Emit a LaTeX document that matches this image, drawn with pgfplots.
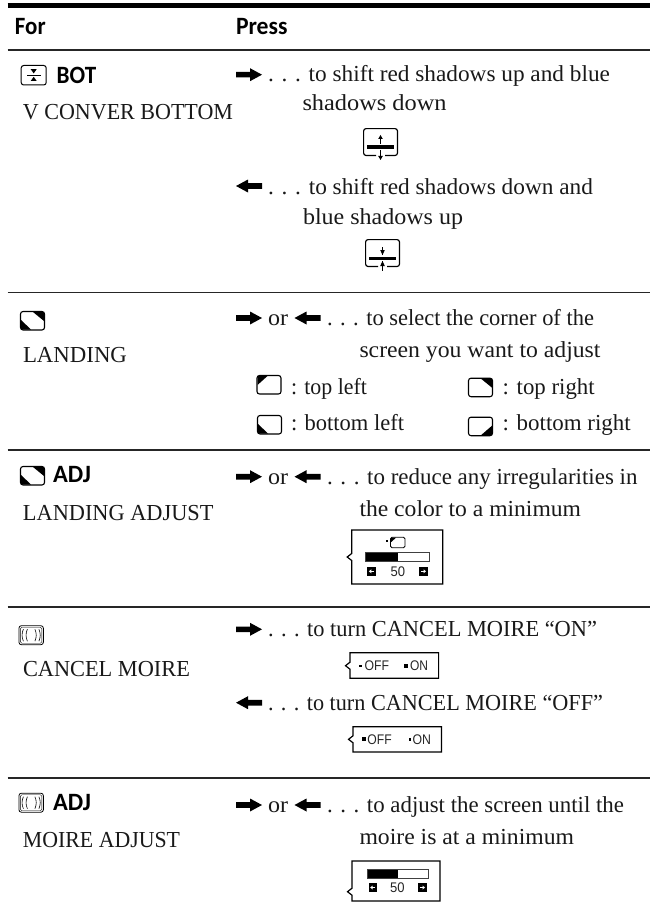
\documentclass[border=0pt]{standalone}
\usepackage{fontspec}
\usepackage{graphicx}
\usepackage{pgfplots}
\pgfplotsset{compat=1.18}
\setmainfont{Liberation Serif}
\newfontfamily\hd{Carlito}
\newfontfamily\ar{Liberation Sans}
% text: x, baseline, width, text
\newcommand\T[4]{\node[anchor=base west,inner sep=0pt,outer sep=0pt,text=black!90] at (axis cs:#1,#2) {\resizebox{#3bp}{\height}{\fontsize{23}{26}\selectfont #4}};}
\newcommand\Hd[4]{\node[anchor=base west,inner sep=0pt,outer sep=0pt] at (axis cs:#1,#2) {\resizebox{#3bp}{\height}{\fontsize{25}{26}\selectfont\hd\bfseries #4}};}
\newcommand\A[4]{\node[anchor=base west,inner sep=0pt,outer sep=0pt,text=black!85] at (axis cs:#1,#2) {\resizebox{#3bp}{\height}{\fontsize{#4}{14}\selectfont\ar 50}};}
\newcommand\AT[4]{\node[anchor=base west,inner sep=0pt,outer sep=0pt,text=black!85] at (axis cs:#1,#2) {\resizebox{#3bp}{\height}{\fontsize{14}{14}\selectfont\ar #4}};}
\newenvironment{px}[2]{\begin{scope}[shift={(axis cs:#1,#2)},x=1bp,y=-1bp]}{\end{scope}}
\newcommand\Rarrow[2]{\begin{px}{#1}{#2}\fill (0,-2.8)--(14,-2.8)--(14,-6.5)--(26,0)--(14,6.5)--(14,2.8)--(0,2.8)--cycle;\end{px}}
\newcommand\Larrow[2]{\begin{px}{#1}{#2}\fill (26,-2.8)--(12,-2.8)--(12,-6.5)--(0,0)--(12,6.5)--(12,2.8)--(26,2.8)--cycle;\end{px}}
\newcommand\Cbox[3]{\begin{px}{#1}{#2}\draw[line width=1.1pt,rounded corners=2.5pt] (0.5,0.5) rectangle (24.5,19);#3\end{px}}
\newcommand\cTL{\fill (1,1)--(11,1)--(1,10)--cycle;}
\newcommand\cTR{\fill (24,1)--(13,1)--(24,10)--cycle;}
\newcommand\cBL{\fill (1,18.5)--(11,18.5)--(1,9)--cycle;}
\newcommand\cBR{\fill (24,18.5)--(13,18.5)--(24,9)--cycle;}
\newcommand\Moire[2]{\begin{px}{#1}{#2}
\draw[line width=.8pt,rounded corners=2.5pt] (0.5,0.5) rectangle (25,19.5);
\draw[line width=.4pt,rounded corners=1.5pt] (2,2) rectangle (23.5,18);
\draw[line width=.6pt] (5,4) .. controls (3.2,8) and (3.2,12) .. (5,16);
\draw[line width=.6pt] (9,4) .. controls (7.2,8) and (7.2,12) .. (9,16);
\draw[line width=.6pt] (16.5,4) .. controls (18.3,8) and (18.3,12) .. (16.5,16);
\draw[line width=.6pt] (20.5,4) .. controls (22.3,8) and (22.3,12) .. (20.5,16);
\end{px}}
\newcommand\Bot[2]{\begin{px}{#1}{#2}
\draw[line width=1pt,rounded corners=2.5pt] (0.5,0.5) rectangle (25.5,20);
\fill (6,9.6) rectangle (20,10.6);
\fill (10,4.2)--(16,4.2)--(13,8.4)--cycle;
\fill (10,16)--(16,16)--(13,11.8)--cycle;
\end{px}}
% shift icon; #3: arrow code
\newcommand\Shift[3]{\begin{px}{#1}{#2}
\draw[line width=1.2pt,rounded corners=2.5pt] (13,27.5)--(0.6,27.5)--(0.6,0.6)--(34.5,0.6)--(34.5,27.5)--(22,27.5);
\fill (4,17.5) rectangle (31,21);
#3\end{px}}
\newcommand\Outward{\draw[line width=.7pt] (17.5,9)--(17.5,16);\fill (15.2,11)--(19.8,11)--(17.5,7)--cycle;
\draw[line width=.7pt] (17.5,22)--(17.5,31);\fill (15.2,28)--(19.8,28)--(17.5,32)--cycle;}
\newcommand\Inward{\draw[line width=.7pt] (17.5,8)--(17.5,16);\fill (15.2,11)--(19.8,11)--(17.5,16)--cycle;
\draw[line width=.7pt] (17.5,22)--(17.5,32);\fill (15.2,27)--(19.8,27)--(17.5,22)--cycle;}
% OSD box: x y w h pointerY
\newcommand\Osd[5]{\begin{px}{#1}{#2}
\draw[line width=1.2pt] (0,#5-3.5)--(0,0)--(#3,0)--(#3,#4)--(0,#4)--(0,#5+3.5)--(-4.5,#5)--cycle;
\end{px}}
\newcommand\Slider[4]{\begin{px}{#1}{#2}
\draw[line width=.8pt,draw=black!75] (0,0) rectangle (#3,#4);
\fill (0.5,0.5) rectangle (#3*0.5,#4-0.5);
\end{px}}
\newcommand\Btn[3]{\begin{px}{#1}{#2}
\fill (0,0) rectangle (8.5,9.5);
\ifnum#3=0
\fill[white] (6.5,4.2) rectangle (3.5,5.4);\fill[white] (4,2.8)--(4,6.8)--(1.5,4.8)--cycle;
\else
\fill[white] (2,4.2) rectangle (5,5.4);\fill[white] (4.5,2.8)--(4.5,6.8)--(7,4.8)--cycle;
\fi
\end{px}}
\begin{document}
\begin{tikzpicture}
\begin{axis}[width=657bp,height=912bp,scale only axis,xmin=0,xmax=657,ymin=0,ymax=912,y dir=reverse,hide axis,clip=false]
\path (axis cs:0,0) rectangle (axis cs:657,912);
\addplot[black,line width=5bp,forget plot] coordinates {(7.5,5.7) (650,5.7)};
\addplot[black!85,line width=1.3bp,forget plot] coordinates {(7.5,50) (650,50)};
\addplot[black!85,line width=1.3bp,forget plot] coordinates {(7.5,292.5) (650,292.5)};
\addplot[black!85,line width=1.3bp,forget plot] coordinates {(7.5,450) (650,450)};
\addplot[black!85,line width=1.3bp,forget plot] coordinates {(7.5,607) (650,607)};
\addplot[black!85,line width=1.3bp,forget plot] coordinates {(7.5,778) (650,778)};
\Hd{15}{35}{30.7}{For}
\Hd{236}{35}{51.5}{Press}
% row 1
\Bot{20.7}{65}
\Hd{56.7}{84}{39.5}{BOT}
\T{23}{120}{210}{V CONVER BOTTOM}
\Rarrow{236}{74.7}
\T{268}{82}{342}{. . . to shift red shadows up and blue}
\T{302.5}{111}{144}{shadows down}
\Shift{363}{128}{\Outward}
\Larrow{236}{186}
\T{268}{194.5}{325}{. . . to shift red shadows down and}
\T{303}{224}{160}{blue shadows up}
\Shift{365}{239}{\Inward}
% row 2
\Cbox{20}{311}{\cTR\cBL}
\T{23}{362}{104}{LANDING}
\Rarrow{236}{318}
\T{268}{325}{20}{or}
\Larrow{294.5}{318}
\T{327}{325}{267}{. . . to select the corner of the}
\T{359.5}{357.3}{241}{screen you want to adjust}
\Cbox{256.5}{375}{\cTL}
\T{291}{394.3}{76}{: top left}
\Cbox{468}{377.7}{\cTR}
\T{502.7}{394.3}{92}{: top right}
\Cbox{257}{415}{\cBL}
\T{291}{430}{113}{: bottom left}
\Cbox{468}{416.7}{\cBR}
\T{502.7}{430}{128}{: bottom right}
% row 3
\Cbox{20}{466}{\cTR\cBL}
\Hd{53}{482.7}{38}{ADJ}
\T{23}{520}{190.5}{LANDING ADJUST}
\Rarrow{236}{476.7}
\T{268}{484}{20}{or}
\Larrow{294.5}{476.7}
\T{327}{484}{310.5}{. . . to reduce any irregularities in}
\T{359.5}{516.7}{221.5}{the color to a minimum}
\Osd{351.7}{530}{91}{54}{27}
\begin{px}{390}{536.7}
\draw[line width=.8pt,rounded corners=1.5pt] (0.5,0.5) rectangle (15,11);
\fill (1,1)--(6,1)--(1,5.5)--cycle;
\fill (-4.3,3.5) rectangle (-2,5);
\end{px}
\Slider{365.7}{552.7}{63.6}{9}
\Btn{367.3}{566.5}{0}
\Btn{419}{566.5}{1}
\A{390.7}{576}{14.5}{14}
% row 4
\Moire{18.4}{625.2}
\T{23}{676.7}{167}{CANCEL MOIRE}
\Rarrow{236}{629.3}
\T{268}{636.7}{329}{. . . to turn CANCEL MOIRE “ON”}
\Osd{350}{652.7}{88.6}{25.6}{13}
\fill (axis cs:359,664.5) rectangle (axis cs:361.5,667);
\AT{364.5}{670}{24.5}{OFF}
\fill (axis cs:404,663.5) rectangle (axis cs:408,667.5);
\AT{410}{670}{18}{ON}
\Larrow{236}{702.7}
\T{268}{710}{335}{. . . to turn CANCEL MOIRE “OFF”}
\Osd{353}{726.7}{88.5}{25.3}{12.6}
\fill (axis cs:362,737) rectangle (axis cs:365.7,741);
\AT{367.4}{744}{24.3}{OFF}
\fill (axis cs:408.5,738) rectangle (axis cs:411,740.5);
\AT{412.6}{744}{18.4}{ON}
% row 5
\Moire{18.4}{792.7}
\Hd{53}{810.7}{38}{ADJ}
\T{23}{847.7}{157}{MOIRE ADJUST}
\Rarrow{236}{805}
\T{268}{812.3}{20}{or}
\Larrow{294.5}{805}
\T{327}{812.3}{297}{. . . to adjust the screen until the}
\T{359.5}{844.3}{214.5}{moire is at a minimum}
\Osd{352}{861}{88}{40}{30.7}
\Slider{367.4}{869.7}{60.6}{9}
\Btn{368.7}{882.7}{0}
\Btn{418}{882.7}{1}
\A{390}{892.7}{14.5}{14}
\end{axis}
\end{tikzpicture}
\end{document}
